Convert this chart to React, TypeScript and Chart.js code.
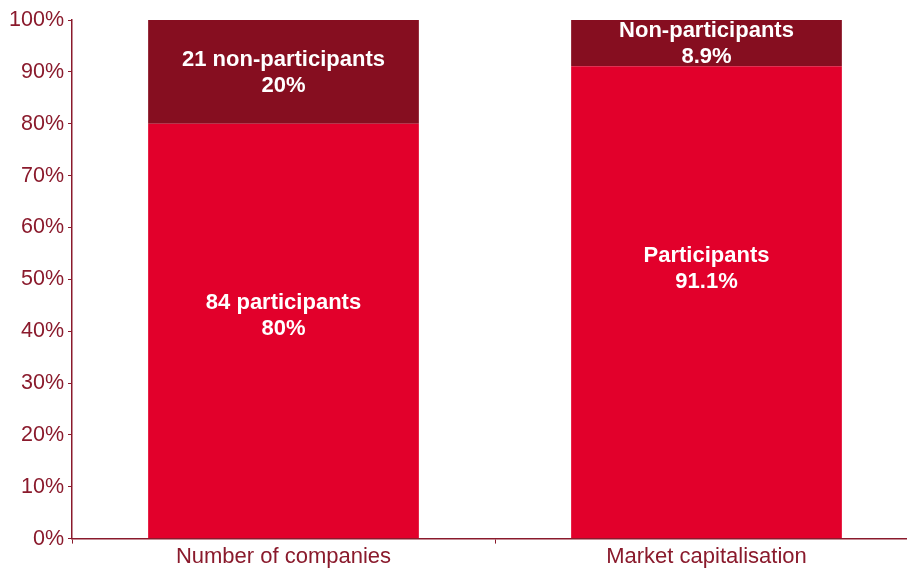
import React, { useEffect, useRef } from "react";
import { Chart, registerables } from "chart.js";

Chart.register(...registerables);

const categories = ["Number of companies", "Market capitalisation"];
const participants = [80, 91.1];
const nonParticipants = [20, 8.9];
const participantLabels = [["84 participants", "80%"], ["Participants", "91.1%"]];
const nonParticipantLabels = [["21 non-participants", "20%"], ["Non-participants", "8.9%"]];
// where (in %) the centre of each bottom label sits
const participantLabelAt = [43, 52];
const yTicks = [0, 10, 20, 30, 40, 50, 60, 70, 80, 90, 100];

const AXIS = "#8a1a2c";
const FONT = "'Liberation Sans', Arial, sans-serif";

const labelPlugin = {
  id: "segLabels",
  afterDatasetsDraw(chart: any) {
    const { ctx, scales } = chart;
    const y = scales.y;
    ctx.save();
    ctx.fillStyle = "#ffffff";
    ctx.font = "bold 22px " + FONT;
    ctx.textAlign = "center";
    ctx.textBaseline = "middle";
    const lh = 26;
    chart.data.datasets.forEach((ds: any, di: number) => {
      const meta = chart.getDatasetMeta(di);
      meta.data.forEach((bar: any, i: number) => {
        const lines = di === 0 ? participantLabels[i] : nonParticipantLabels[i];
        let cy: number;
        if (di === 0) cy = y.getPixelForValue(participantLabelAt[i]);
        else cy = (bar.y + bar.base) / 2 + 1;
        lines.forEach((t: string, k: number) => {
          ctx.fillText(t, bar.x, cy + (k - (lines.length - 1) / 2) * lh);
        });
      });
    });
    ctx.restore();
  },
};

export default function App() {
  const ref = useRef<HTMLCanvasElement>(null);
  useEffect(() => {
    document.body.style.margin = "0";
    const chart = new Chart(ref.current!, {
      type: "bar",
      data: {
        labels: categories,
        datasets: [
          { label: "Participants", data: participants, backgroundColor: "#e2002b", borderWidth: 0, barPercentage: 0.64, categoryPercentage: 1 },
          { label: "Non-participants", data: nonParticipants, backgroundColor: "#860e20", borderWidth: 0, barPercentage: 0.64, categoryPercentage: 1 },
        ],
      },
      options: {
        animation: false,
        responsive: false,
        maintainAspectRatio: false,
        layout: { padding: { top: 20, bottom: 2, left: 0, right: 0 } },
        plugins: { legend: { display: false }, tooltip: { enabled: false } },
        scales: {
          x: {
            stacked: true,
            offset: true,
            grid: { display: true, drawOnChartArea: false, drawTicks: true, tickLength: 5, color: AXIS, offset: true },
            border: { display: true, color: AXIS, width: 1.5 },
            ticks: { color: AXIS, font: { size: 22, family: FONT }, padding: 0 },
          },
          y: {
            stacked: true,
            min: 0,
            max: 100,
            afterBuildTicks: (axis: any) => {
              axis.ticks = yTicks.map((v) => ({ value: v }));
            },
            afterFit: (axis: any) => {
              axis.width = 72;
            },
            grid: { display: true, drawOnChartArea: false, drawTicks: true, tickLength: 4, color: AXIS },
            border: { display: true, color: AXIS, width: 1.5 },
            ticks: {
              color: AXIS,
              font: { size: 21.5, family: FONT },
              padding: 4,
              callback: (v: any) => v + "%",
            },
          },
        },
      },
      plugins: [labelPlugin],
    });
    return () => chart.destroy();
  }, []);
  return (
    <div style={{ width: 907, height: 572, overflow: "hidden" }}>
      <canvas ref={ref} width={918} height={572} style={{ display: "block" }} />
    </div>
  );
}
